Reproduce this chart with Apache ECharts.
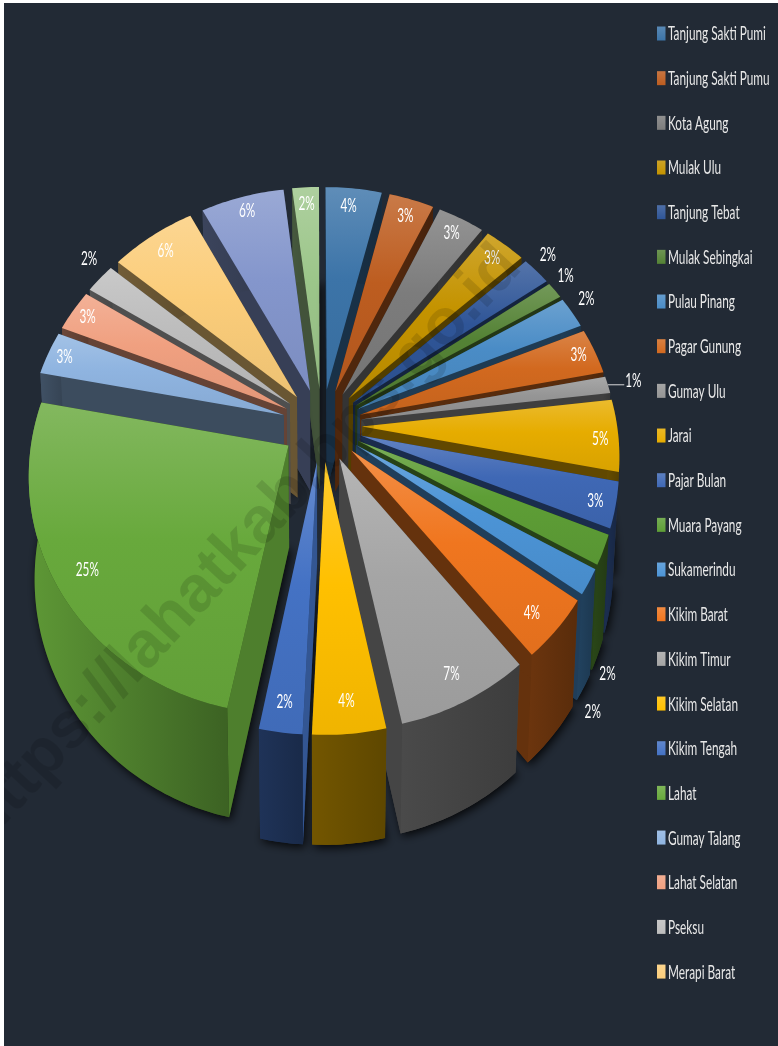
<!DOCTYPE html>
<html><head><meta charset="utf-8">
<style>html,body{margin:0;padding:0;background:#fff;overflow:hidden}#c{position:absolute;left:4px;top:3px;width:774px;height:1043px}</style>
<script src="https://cdn.jsdelivr.net/npm/echarts@6/dist/echarts.min.js"></script>
</head><body><div id="c"></div>
<script>
const categories = ['Tanjung Sakti Pumi','Tanjung Sakti Pumu','Kota Agung','Mulak Ulu','Tanjung Tebat','Mulak Sebingkai','Pulau Pinang','Pagar Gunung','Gumay Ulu','Jarai','Pajar Bulan','Muara Payang','Sukamerindu','Kikim Barat','Kikim Timur','Kikim Selatan','Kikim Tengah','Lahat','Gumay Talang','Lahat Selatan','Pseksu','Merapi Barat','Kecamatan 23','Kecamatan 24'];
const legendCount = 22;
const values = [4.0,3.2,3.31,2.92,2.04,1.19,2.21,3.17,1.16,4.91,3.12,2.04,1.76,4.25,7.45,4.07,2.4,24.82,3.0,2.92,2.13,6.09,5.93,1.9];
const colors = ['#3c74a8','#bd5d20','#7c7c7c','#c49300','#2f5597','#548235','#4a8cc6','#d2691f','#959595','#e6ac00','#3f68b5','#5e9e36','#4c94d6','#f0761f','#a5a5a5','#ffc000','#4472c4','#68a93c','#8fb4e0','#f0a080','#bdbdbd','#fbcd7a','#8496cc','#9cc68a'];
// label placement: fraction of the radius, then optional pixel nudge
const labelFrac = [.91,.91,.91,.91,1.09,1.09,1.09,.93,1.13,.93,.93,.93,.93,.9,.9,.89,.9,.88,.93,.93,1.05,.9,.92,.91];
const labelNudge = {0:[-3,1],4:[-4,-5],5:[-6,-5],6:[-4,-5],8:[-6,1],9:[0,4],10:[-2,1],11:[22,132],12:[21,140],13:[-3,3],20:[-2,-14]};

const OX=4,OY=3;
const Cx=322-OX, Cy=425-OY, K=0.000445, Sy=0.913, R=255, E=40, START=-0.2;
const total = values.reduce((a,b)=>a+b,0);
const rad = d=>d*Math.PI/180;
function project(u,v){const w=1/(1+K*v);return [Cx+u*w, Cy-v*Sy*w];}
function drop(p){const y0=p[1]+OY;return [Cx+(p[0]-Cx)*.98, p[1]+100+(y0-385)*.0286];}
function mix(hex,t,a){const n=parseInt(hex.slice(1),16),c=[n>>16,(n>>8)&255,n&255],x=parseInt(t.slice(1),16),d=[x>>16,(x>>8)&255,x&255];
  return 'rgb('+c.map((v,i)=>Math.round(v+(d[i]-v)*a)).join(',')+')';}
const LG=(x0,y0,x1,y1,st)=>new echarts.graphic.LinearGradient(x0,y0,x1,y1,st.map(c=>({offset:c[0],color:c[1]})));

let acc=START;
const slices=values.map((val,i)=>{const a0=acc,a1=acc+val/total*360;acc=a1;const m=(a0+a1)/2;
  const tu=E*Math.sin(rad(m)),tv=E*Math.cos(rad(m));
  const tip=project(tu,tv),arc=[];
  const n=Math.max(2,Math.ceil(a1-a0));
  for(let j=0;j<=n;j++){const t=a0+(a1-a0)*j/n;arc.push(project(tu+R*Math.sin(rad(t)),tv+R*Math.cos(rad(t))));}
  return {i,val,a0,a1,m,tu,tv,tip,arc};});

function renderSlice(params,api){
  const s=slices[params.seriesIndex],col=colors[s.i];
  const tipB=drop(s.tip),arcB=s.arc.map(drop);
  const ch=[];
  const isBig=s.val>20;
  const wl=isBig?.1:.55, wd=isBig?.42:.63;
  ch.push({type:'polygon',shape:{points:[tipB].concat(arcB)},style:{fill:mix(col,'#000000',.58),shadowBlur:10,shadowColor:'rgba(0,0,0,.85)',shadowOffsetX:2,shadowOffsetY:3}});
  const lit=(s.m>180&&s.m<250)?.25:.58;
  ch.push({type:'polygon',shape:{points:[s.tip,s.arc[s.arc.length-1],arcB[arcB.length-1],tipB]},style:{fill:mix(col,'#000000',.58)}});
  ch.push({type:'polygon',shape:{points:[s.tip,s.arc[0],arcB[0],tipB]},style:{fill:mix(col,'#000000',lit)}});
  ch.push({type:'polygon',shape:{points:s.arc.concat(arcB.slice().reverse())},style:{fill:LG(0,0,1,0,[[0,mix(col,'#000000',wl)],[1,mix(col,'#000000',wd)]])}});
  ch.push({type:'polygon',shape:{points:[s.tip].concat(s.arc)},style:{fill:LG(0,0,0,1,[[0,mix(col,'#ffffff',.18)],[.45,col],[1,mix(col,'#000000',.06)]])}});
  return {type:'group',children:ch};
}
function renderLabel(params,api){
  const s=slices[params.dataIndex];
  const f=labelFrac[s.i],nd=labelNudge[s.i]||[0,0];
  const p=project(s.tu+R*f*Math.sin(rad(s.m)),s.tv+R*f*Math.cos(rad(s.m)));
  const lx=p[0]+nd[0],ly=p[1]+nd[1],ch=[];
  if(s.i===8){const e=project(s.tu+R*Math.sin(rad(s.m)),s.tv+R*Math.cos(rad(s.m)));
    ch.push({type:'line',shape:{x1:e[0],y1:e[1],x2:lx-9,y2:e[1]},style:{stroke:'#d9d9d9',lineWidth:1}});}
  ch.push({type:'text',x:lx,y:ly,scaleX:.62,scaleY:1,style:{text:Math.round(s.val)+'%',fill:'#ffffff',font:'19px Lato,sans-serif',align:'center',verticalAlign:'middle'}});
  return {type:'group',children:ch};
}
const order=slices.slice().sort((a,b)=>Math.cos(rad(b.m))-Math.cos(rad(a.m))).map(s=>s.i);
const rank={};order.forEach((idx,r)=>rank[idx]=r);
const legendItems=[];
categories.slice(0,legendCount).forEach((n,i)=>{
  const y=33+i*44.67-OY;
  legendItems.push({type:'rect',shape:{x:657-OX,y:y-6.5,width:8.5,height:14},silent:true,z:120,
    style:{fill:LG(0,0,0,1,[[0,mix(colors[i],'#ffffff',.15)],[1,colors[i]]])}});
  legendItems.push({type:'text',x:668-OX,y:y+1,scaleX:.59,silent:true,z:120,
    style:{text:n,fill:'#e8e8e8',font:'20px Lato,sans-serif',align:'left',verticalAlign:'middle'}});
});
const chart=echarts.init(document.getElementById('c'),null,{renderer:'canvas'});
chart.setOption({
  backgroundColor:'#222a35',animation:false,
  graphic:[{type:'text',x:242-OX,y:544-OY,rotation:47*Math.PI/180,z:100,silent:true,
    style:{text:'https://lahatkab.bps.go.id',font:'bold 65px "Liberation Sans",sans-serif',fill:'rgba(0,0,0,0.12)',align:'center',verticalAlign:'middle'}}].concat(legendItems),
  series:categories.map((n,i)=>({type:'custom',name:n,coordinateSystem:'none',z:2+rank[i],silent:true,itemStyle:{color:colors[i]},
    renderItem:renderSlice,data:[{name:n,value:values[i]}]})).concat([
    {type:'custom',name:'Persentase',coordinateSystem:'none',z:90,silent:true,renderItem:renderLabel,data:values}])
});
</script></body></html>
